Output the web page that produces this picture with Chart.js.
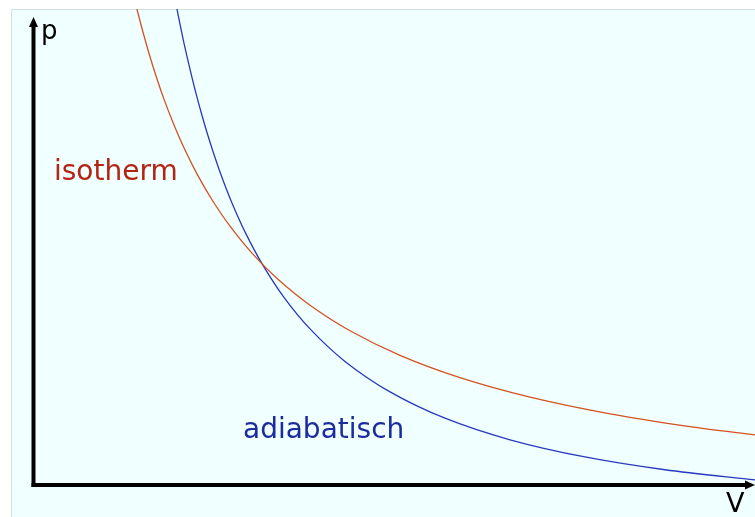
<!DOCTYPE html>
<html>
<head>
<meta charset="utf-8">
<script src="https://cdn.jsdelivr.net/npm/chart.js@4/dist/chart.umd.min.js"></script>
<style>
  html, body { margin: 0; padding: 0; background: #ffffff; }
  #pv-chart { display: block; }
</style>
</head>
<body>
<canvas id="pv-chart" width="755" height="517"></canvas>
<script>
//Volume and pressure values (arbitrary units, axes 0..10)
const isothermV = [1.399, 1.454, 1.524, 1.607, 1.704, 1.814, 1.939, 2.091, 2.271, 2.479, 2.729, 3.033, 3.393, 3.837, 4.391, 5.083, 5.914, 6.884, 7.992, 9.100, 10.0];
const isothermP = [10.258, 9.913, 9.511, 9.066, 8.594, 8.107, 7.616, 7.084, 6.537, 5.993, 5.438, 4.872, 4.323, 3.778, 3.241, 2.724, 2.256, 1.846, 1.495, 1.227, 1.051];
const adiabatV = [1.939, 1.981, 2.036, 2.091, 2.161, 2.244, 2.341, 2.452, 2.590, 2.756, 2.950, 3.186, 3.476, 3.837, 4.321, 4.945, 5.706, 6.607, 7.645, 8.753, 10.0];
const adiabatP = [10.442, 10.106, 9.682, 9.285, 8.821, 8.307, 7.762, 7.200, 6.577, 5.926, 5.276, 4.613, 3.942, 3.279, 2.596, 1.956, 1.403, 0.950, 0.589, 0.320, 0.107];

//Labels
const axisLabelX = "V";
const axisLabelY = "p";
const isothermLabel = "isotherm";
const adiabatLabel = "adiabatisch";

function toPoints(xs, ys) {
  return xs.map((x, i) => ({ x: x, y: ys[i] }));
}

//Background panel and axes with arrows, drawn around the datasets
const pvDecor = {
  id: "pvDecor",
  beforeDraw(chart) {
    const ctx = chart.ctx;
    ctx.save();
    ctx.fillStyle = "#ffffff";
    ctx.fillRect(0, 0, chart.width, chart.height);
    ctx.fillStyle = "#f0ffff";
    ctx.fillRect(11, 9, chart.width - 11, chart.height - 9);
    ctx.strokeStyle = "#cfe2e2";
    ctx.lineWidth = 1;
    ctx.beginPath();
    ctx.moveTo(11.5, chart.height);
    ctx.lineTo(11.5, 9.5);
    ctx.lineTo(chart.width, 9.5);
    ctx.stroke();
    ctx.restore();
  },
  afterDatasetsDraw(chart) {
    const ctx = chart.ctx;
    const x0 = chart.scales.x.getPixelForValue(0);
    const y0 = chart.scales.y.getPixelForValue(0);
    ctx.save();
    ctx.strokeStyle = "#000000";
    ctx.fillStyle = "#000000";
    ctx.lineWidth = 4;
    //y axis
    ctx.beginPath();
    ctx.moveTo(x0 + 0.5, y0 + 2);
    ctx.lineTo(x0 + 0.5, 25);
    ctx.stroke();
    ctx.beginPath();
    ctx.moveTo(x0 - 4, 27);
    ctx.lineTo(x0 + 5, 27);
    ctx.lineTo(x0 + 0.5, 17);
    ctx.closePath();
    ctx.fill();
    //x axis
    ctx.beginPath();
    ctx.moveTo(x0 - 1.5, y0);
    ctx.lineTo(747, y0);
    ctx.stroke();
    ctx.beginPath();
    ctx.moveTo(745, y0 - 4.5);
    ctx.lineTo(745, y0 + 4.5);
    ctx.lineTo(755, y0);
    ctx.closePath();
    ctx.fill();

    //texts
    ctx.textBaseline = "alphabetic";
    ctx.font = "26px 'DejaVu Sans'";
    ctx.fillText(axisLabelY, 41, 39);
    ctx.font = "27px 'DejaVu Sans'";
    ctx.fillText(axisLabelX, 726, 512);
    ctx.font = "28px 'DejaVu Sans'";
    ctx.fillStyle = "#b52412";
    ctx.fillText(isothermLabel, 54, 180);
    ctx.fillStyle = "#1c2c9e";
    ctx.fillText(adiabatLabel, 243, 438);
    ctx.restore();
  },
};

const ctx = document.getElementById("pv-chart").getContext("2d");
const chart = new Chart(ctx, {
  type: "scatter",
  data: {
    datasets: [
      {
        label: isothermLabel,
        data: toPoints(isothermV, isothermP),
        showLine: true,
        borderColor: "#d5511f",
        borderWidth: 1.3,
        pointRadius: 0,
        tension: 0.3,
      },
      {
        label: adiabatLabel,
        data: toPoints(adiabatV, adiabatP),
        showLine: true,
        borderColor: "#2a38bd",
        borderWidth: 1.3,
        pointRadius: 0,
        tension: 0.3,
      },
    ],
  },
  options: {
    responsive: false,
    animation: false,
    events: [],
    layout: {
      padding: { left: 33, top: 9, right: 0, bottom: 32 },
    },
    scales: {
      x: { type: "linear", min: 0, max: 10, display: false },
      y: { type: "linear", min: 0, max: 10, display: false },
    },
    plugins: {
      legend: { display: false },
      tooltip: { enabled: false },
    },
  },
  plugins: [pvDecor],
});
</script>
</body>
</html>
